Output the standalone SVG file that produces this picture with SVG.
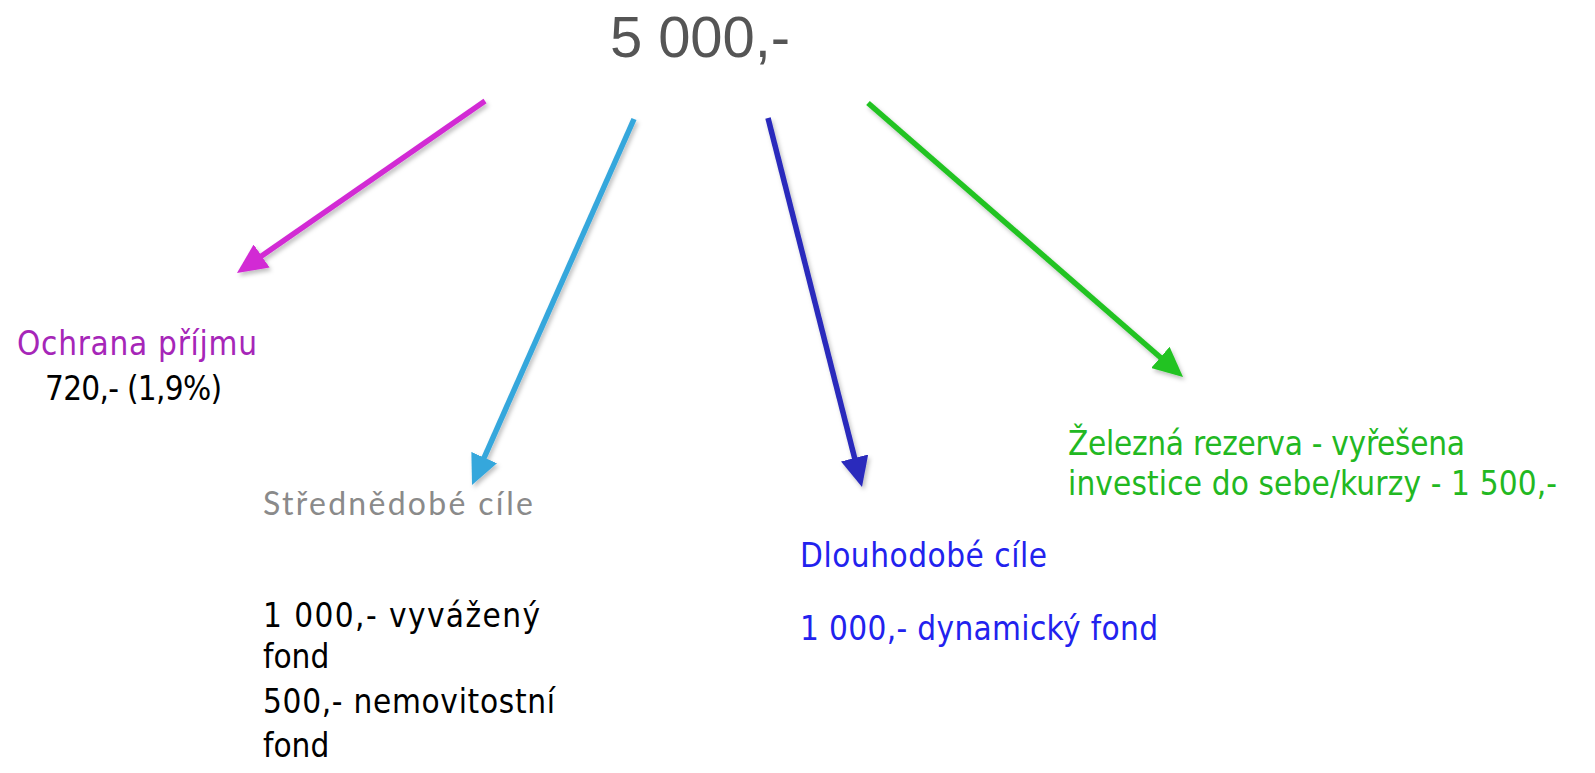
<svg xmlns="http://www.w3.org/2000/svg" width="1595" height="773" viewBox="0 0 1595 773">
<style>
  .t { font-family: "DejaVu Sans Condensed", "DejaVu Sans", sans-serif; font-stretch: condensed; font-size: 33px; }
  .title { font-family: "Liberation Sans", Arial, sans-serif; font-size: 58px; fill: #555555; }
  .mid { font-family: Lato, "Open Sans", sans-serif; font-size: 32px; fill: #8a8a8a; }
  .conn { stroke-width: 5.5; fill: none; filter: url(#sh); }
</style>
<defs>
  <filter id="sh" x="-20%" y="-20%" width="140%" height="140%">
    <feDropShadow dx="2" dy="3" stdDeviation="2" flood-color="#000" flood-opacity="0.25"/>
  </filter>
  <marker id="amag" markerUnits="userSpaceOnUse" viewBox="0 0 30 28" refX="15" refY="14" markerWidth="30" markerHeight="28" orient="auto"><path d="M0,0 L30,14 L0,28 z" fill="#d22bd4"/></marker>
  <marker id="acyan" markerUnits="userSpaceOnUse" viewBox="0 0 30 28" refX="15" refY="14" markerWidth="30" markerHeight="28" orient="auto"><path d="M0,0 L30,14 L0,28 z" fill="#36a7dc"/></marker>
  <marker id="ablue" markerUnits="userSpaceOnUse" viewBox="0 0 30 28" refX="15" refY="14" markerWidth="30" markerHeight="28" orient="auto"><path d="M0,0 L30,14 L0,28 z" fill="#2a2abc"/></marker>
  <marker id="agreen" markerUnits="userSpaceOnUse" viewBox="0 0 30 28" refX="15" refY="14" markerWidth="30" markerHeight="28" orient="auto"><path d="M0,0 L30,14 L0,28 z" fill="#22c322"/></marker>
</defs>
<rect width="1595" height="773" fill="#ffffff"/>

<g id="connectors">
  <line class="conn" x1="485" y1="101" x2="249.3" y2="264.5" stroke="#d22bd4" marker-end="url(#amag)"/>
  <line class="conn" x1="634" y1="119" x2="478.1" y2="471.3" stroke="#36a7dc" marker-end="url(#acyan)"/>
  <line class="conn" x1="768" y1="118" x2="858.3" y2="472.5" stroke="#2a2abc" marker-end="url(#ablue)"/>
  <line class="conn" x1="868" y1="103" x2="1171.7" y2="367.2" stroke="#22c322" marker-end="url(#agreen)"/>
</g>

<g id="root">
  <text class="title" x="610" y="57" textLength="180">5 000,-</text>
</g>

<g id="ochrana">
  <text class="t" x="17" y="355" fill="#a626b8" textLength="240">Ochrana příjmu</text>
  <text class="t" x="45" y="400" fill="#000000" textLength="177">720,- (1,9%)</text>
</g>

<g id="strednedobe">
  <text class="mid" x="263" y="515" textLength="270">Střednědobé cíle</text>
  <text class="t" x="263" y="627" fill="#000000" textLength="277">1 000,- vyvážený</text>
  <text class="t" x="263" y="668" fill="#000000">fond</text>
  <text class="t" x="263" y="713" fill="#000000" textLength="292">500,- nemovitostní</text>
  <text class="t" x="263" y="757" fill="#000000">fond</text>
</g>

<g id="dlouhodobe">
  <text class="t" x="800" y="567" fill="#2222ee" textLength="247">Dlouhodobé cíle</text>
  <text class="t" x="800" y="640" fill="#2222ee" textLength="358">1 000,- dynamický fond</text>
</g>

<g id="rezerva">
  <text class="t" x="1068" y="455" fill="#22b822" textLength="397">Železná rezerva - vyřešena</text>
  <text class="t" x="1068" y="495" fill="#22b822" textLength="489">investice do sebe/kurzy - 1 500,-</text>
</g>
</svg>
